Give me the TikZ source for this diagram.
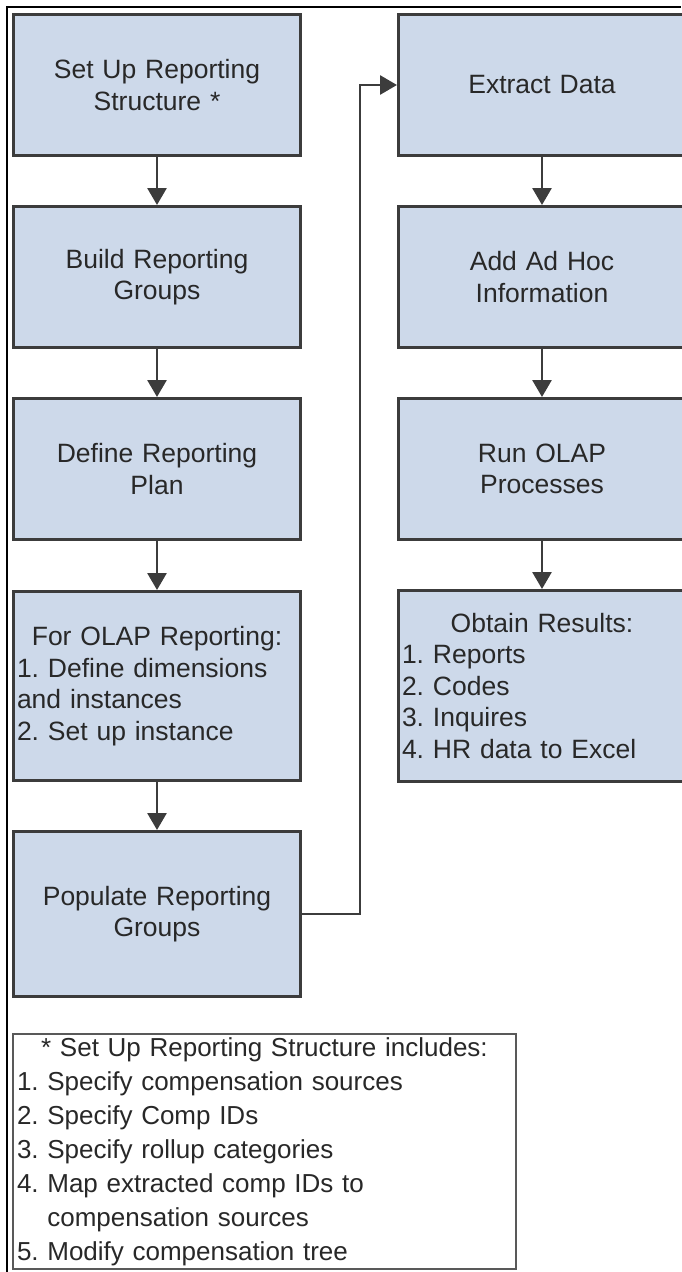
\documentclass[tikz,border=0pt]{standalone}
\usepackage{xcolor}
\usepackage{fontspec}
\setmainfont{Liberation Sans}
\usepackage{tikz}
\usetikzlibrary{arrows.meta,positioning}

\definecolor{boxfill}{RGB}{205,217,234}
\definecolor{boxline}{RGB}{60,60,60}
\definecolor{textgray}{RGB}{40,40,40}

\begin{document}
\frenchspacing
\begin{tikzpicture}[
    x=1pt, y=-1pt,
    process/.style={rectangle, draw=boxline, fill=boxfill, line width=3pt, minimum width=287pt, text width=280pt, inner sep=0pt, align=center, text=textgray, font=\fontsize{26.5}{31.5}\selectfont},
    note/.style={rectangle, draw=boxline!85, fill=white, line width=2.5pt, minimum width=503pt, minimum height=235pt, text width=495pt, inner sep=0pt, align=left, text=textgray, font=\fontsize{26}{34}\selectfont},
    flow/.style={-{Triangle[length=17pt,width=19pt]}, line width=2.8pt, draw=boxline}
]
    \useasboundingbox (0,0) rectangle (681,1272);
    % Page frame
    \draw[line width=2.5pt] (7,1272) -- (7,7) -- (681,7);

    % Setup steps
    \node[process, minimum height=141pt] (setup) at (157,85) {Set Up Reporting\\Structure *};
    \node[process, minimum height=141pt] (build) at (157,277) {Build Reporting\\Groups};
    \node[process, minimum height=141pt] (define) at (157,469) {Define Reporting\\Plan};
    \node[process, minimum height=189pt, align=left] (olap) at (157,686) {\makebox[280pt]{For OLAP Reporting:}\\1. Define dimensions\\and instances\\2. Set up instance};
    \node[process, minimum height=165pt] (populate) at (157,914) {Populate Reporting\\Groups};

    % Reporting steps
    \node[process, minimum height=141pt] (extract) at (542,85) {Extract Data};
    \node[process, minimum height=141pt] (adhoc) at (542,277) {Add Ad Hoc\\Information};
    \node[process, minimum height=141pt] (runolap) at (542,469) {Run OLAP\\Processes};
    \node[process, minimum height=191pt, align=left] (results) at (542,686) {\makebox[280pt]{Obtain Results:}\\1. Reports\\2. Codes\\3. Inquires\\4. HR data to Excel};

    % Footnote
    \node[note] (footnote) at (264.5,1151.5) {\makebox[495pt]{* Set Up Reporting Structure includes:}\\1. Specify compensation sources\\2. Specify Comp IDs\\3. Specify rollup categories\\4. Map extracted comp IDs to\\\phantom{4. }compensation sources\\5. Modify compensation tree};

    % Flow
    \draw[flow] (setup.south) -- (build.north);
    \draw[flow] (build.south) -- (define.north);
    \draw[flow] (define.south) -- (olap.north);
    \draw[flow] (olap.south) -- (populate.north);
    \draw[flow] (populate.east) -- ++(58,0) |- (extract.west);
    \draw[flow] (extract.south) -- (adhoc.north);
    \draw[flow] (adhoc.south) -- (runolap.north);
    \draw[flow] (runolap.south) -- (results.north);
\end{tikzpicture}
\end{document}
